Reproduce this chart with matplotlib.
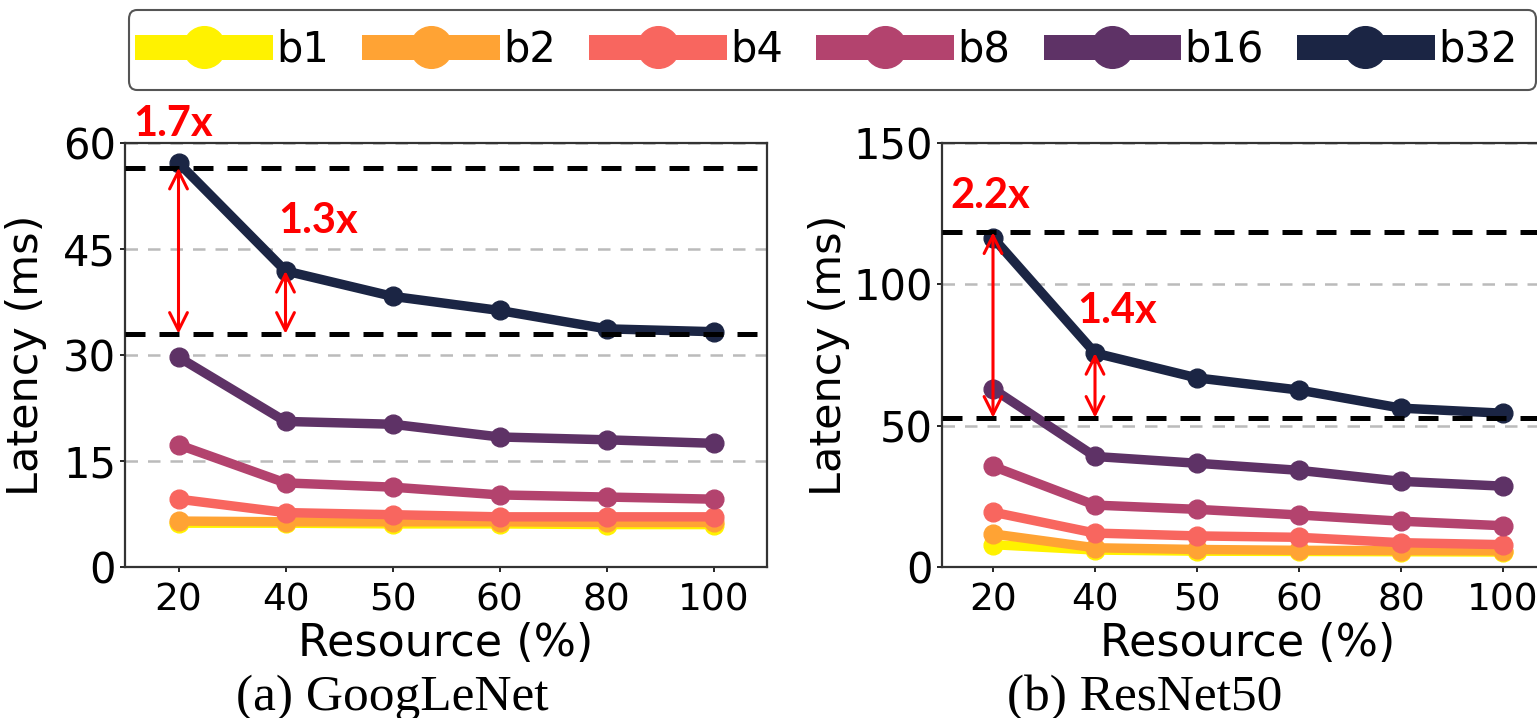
import matplotlib
matplotlib.use("Agg")
import matplotlib.pyplot as plt
from matplotlib.lines import Line2D

# ---------------- data ----------------
resources = ["20", "40", "50", "60", "80", "100"]
batches = ["b1", "b2", "b4", "b8", "b16", "b32"]
colors = ["#fff200", "#ffa334", "#f8665f", "#b3436e", "#5e3266", "#1b2544"]

googlenet_b1 = [6.2, 6.2, 6.1, 6.1, 6.0, 6.0]
googlenet_b2 = [6.5, 6.4, 6.4, 6.4, 6.3, 6.3]
googlenet_b4 = [9.6, 7.7, 7.4, 7.1, 7.1, 7.1]
googlenet_b8 = [17.3, 11.9, 11.3, 10.2, 9.9, 9.6]
googlenet_b16 = [29.7, 20.6, 20.2, 18.4, 18.0, 17.5]
googlenet_b32 = [57.2, 41.9, 38.3, 36.3, 33.7, 33.3]

resnet_b1 = [7.9, 6.0, 5.6, 5.5, 5.4, 5.3]
resnet_b2 = [11.7, 6.8, 6.2, 5.9, 5.8, 5.7]
resnet_b4 = [19.4, 12.0, 11.0, 10.5, 8.6, 7.9]
resnet_b8 = [35.6, 21.9, 20.4, 18.4, 16.2, 14.6]
resnet_b16 = [63.0, 39.1, 36.7, 34.2, 30.3, 28.6]
resnet_b32 = [116.5, 75.7, 66.9, 62.6, 56.2, 54.4]

googlenet_ref = [56.5, 33.0]
resnet_ref = [118.4, 52.8]
googlenet_ratios = ["1.7x", "1.3x"]
resnet_ratios = ["2.2x", "1.4x"]

googlenet_yticks = [0, 15, 30, 45, 60]
resnet_yticks = [0, 50, 100, 150]

# ---------------- figure ----------------
W, H = 1537, 718
fig = plt.figure(figsize=(W / 100, H / 100), dpi=100)

def px_rect(x0, x1, ytop, ybot):
    return [x0 / W, 1 - ybot / H, (x1 - x0) / W, (ybot - ytop) / H]

ax1 = fig.add_axes(px_rect(125, 767, 143, 567))
ax2 = fig.add_axes(px_rect(942, 1554, 143, 567))

def draw(ax, series, ref, ratios, yticks, ylim, txt_pos, ylab_x):
    x = list(range(len(resources)))
    for vals, c in zip(series, colors):
        ax.plot(x, vals, color=c, lw=6.8, marker="o", ms=13.5, zorder=3,
                solid_capstyle="round")
    for r in ref:
        ax.axhline(r, color="black", lw=3.6, dashes=(4, 2.8), zorder=4)
    top = series[-1]
    arrow_kw = dict(arrowstyle="<->", color="red", lw=2.2, mutation_scale=32,
                    shrinkA=0, shrinkB=0)
    ax.annotate("", xy=(0, ref[1]), xytext=(0, ref[0]), arrowprops=arrow_kw, zorder=5)
    ax.annotate("", xy=(1, ref[1]), xytext=(1, top[1]), arrowprops=arrow_kw, zorder=5)
    for (tx, ty), s in zip(txt_pos, ratios):
        ax.text(tx, ty, s, color="red", fontsize=30, fontweight="bold",
                family=["Lato", "DejaVu Sans"], ha="left", va="baseline",
                clip_on=False, zorder=6)
    ax.set_xlim(-0.5, 5.5)
    ax.set_ylim(*ylim)
    ax.set_xticks(x)
    ax.set_xticklabels(resources)
    ax.set_yticks(yticks)
    ax.tick_params(axis="x", labelsize=27, length=3.5, width=1.2, pad=8)
    ax.tick_params(axis="y", labelsize=30, length=3.5, width=1.2, pad=3)
    ax.yaxis.grid(True, color="#bbbbbb", lw=1.8, dashes=(5, 4))
    ax.set_axisbelow(True)
    for sp in ax.spines.values():
        sp.set_color("#333333")
        sp.set_linewidth(1.6)
    ax.set_ylabel("Latency (ms)", fontsize=31)
    ax.yaxis.set_label_coords(ylab_x, 0.5)
    ax.set_xlabel("Resource (%)", fontsize=32, labelpad=2)

draw(ax1,
     [googlenet_b1, googlenet_b2, googlenet_b4, googlenet_b8, googlenet_b16, googlenet_b32],
     googlenet_ref, googlenet_ratios, googlenet_yticks, (0, 60),
     [(-0.42, 61.0), (0.93, 47.2)], -0.122)
draw(ax2,
     [resnet_b1, resnet_b2, resnet_b4, resnet_b8, resnet_b16, resnet_b32],
     resnet_ref, resnet_ratios, resnet_yticks, (0, 150),
     [(-0.42, 127.0), (0.83, 86.3)], -0.15)

# captions
fig.text(392 / W, 1 - 710 / H, "(a) GoogLeNet", family="Liberation Serif",
         fontsize=37, ha="center", va="baseline")
fig.text(1145 / W, 1 - 710 / H, "(b) ResNet50", family="Liberation Serif",
         fontsize=37, ha="center", va="baseline")

# legend
handles = [Line2D([], [], color=c, lw=18, marker="o", ms=30) for c in colors]
leg = fig.legend(handles, batches, loc="center", ncol=6,
                 bbox_to_anchor=((130 + 1535) / 2 / W, 1 - 50 / H),
                 fontsize=30, handlelength=2.7, handletextpad=0.4,
                 columnspacing=1.08, borderpad=0.45, borderaxespad=0,
                 frameon=True, fancybox=True, edgecolor="#555555",
                 framealpha=1)
leg.get_frame().set_linewidth(1.5)

fig.savefig("out.png", dpi=100)
